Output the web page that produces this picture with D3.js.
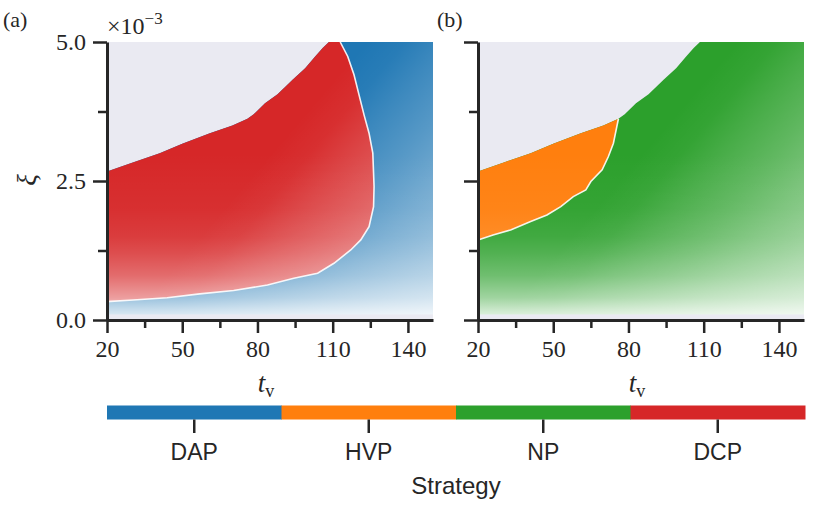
<!DOCTYPE html>
<html>
<head>
<meta charset="utf-8">
<script src="https://cdn.jsdelivr.net/npm/d3@7"></script>
<style>
  body { margin: 0; background: #fff; }
  svg { display: block; }
</style>
</head>
<body>
<div id="chart"></div>
<script>
// tick values
const tTicks = [20, 50, 80, 110, 140];
const tMinor = [35, 65, 95, 125];
const xiTicks = [0, 2.5, 5.0];
const xiMinor = [1.25, 3.75];

// strategies for the colour bar
const strategies = ["DAP", "HVP", "NP", "DCP"];
const strategyColors = ["#1f77b4", "#ff7f0e", "#2ca02c", "#d62728"];

// boundary of the "no strategy" region (top), in (t_v, xi*1e3)
const noneEdge = [
  [20, 2.67], [30, 2.83], [41, 3.0], [50, 3.17], [61, 3.36], [70, 3.5],
  [76, 3.62], [78.5, 3.7], [83, 3.9], [88, 4.06], [94, 4.32], [99, 4.53],
  [103, 4.74], [106, 4.89], [108.5, 5.0]
];

// (a) DCP region: right and lower boundary, from the top going round
const dcpEdge = [
  [113, 5.0], [116, 4.74], [118.5, 4.41], [120.5, 4.05], [122.5, 3.69],
  [124.5, 3.36], [126, 3.0], [126.5, 2.4], [126.3, 2.04], [124.5, 1.68],
  [121.2, 1.44], [117.2, 1.26], [110.5, 1.02], [104, 0.84], [94.5, 0.75],
  [84, 0.63], [70.5, 0.53], [57, 0.47], [44, 0.40], [30.5, 0.36], [20, 0.33]
];

// (b) HVP region: boundary with NP, from the top going down-left
const hvpEdge = [
  [76, 3.62], [74, 3.18], [72, 2.94], [69.5, 2.70], [65, 2.49], [63, 2.34],
  [58, 2.22], [53, 2.04], [47.5, 1.89], [41, 1.77], [33, 1.62], [26, 1.53],
  [20, 1.44]
];

// strip at xi ~ 0 with no strategy
const emptyBand = 0.1;

const W = 821, H = 517;
const svg = d3.select('#chart').append('svg')
  .attr('width', W).attr('height', H);
const defs = svg.append('defs');

const ink = '#262626';
const bgGray = '#eaeaf2';
const serif = '"Liberation Serif", "Times New Roman", serif';
const sans = '"Liberation Sans", Arial, sans-serif';

const yScale = d3.scaleLinear().domain([0, 5]).range([320, 42]);

const panels = [
  { id: 'a', x0: 107, label: '(a)', labelX: 3, low: 0, high: 3, edge: dcpEdge, showY: true },
  { id: 'b', x0: 478, label: '(b)', labelX: 437, low: 2, high: 1, edge: hvpEdge, showY: false }
];

const line = (x) => d3.line().x(d => x(d[0])).y(d => yScale(d[1]));

panels.forEach(p => {
  const x = d3.scaleLinear().domain([20, 150]).range([p.x0, p.x0 + 326]);
  const g = svg.append('g');
  const L = line(x);

  // background (no strategy)
  g.append('rect')
    .attr('x', x(20)).attr('y', yScale(5))
    .attr('width', x(150) - x(20)).attr('height', yScale(0) - yScale(5))
    .attr('fill', bgGray);

  // region below the none-edge
  const lowerPoly = noneEdge.concat([[150, 5], [150, 0], [20, 0]]);
  g.append('path').attr('d', L(lowerPoly) + 'Z')
    .attr('fill', strategyColors[p.low]);

  // upper-left strategy region
  let upperPoly;
  if (p.id === 'a') upperPoly = noneEdge.concat(dcpEdge);
  else upperPoly = noneEdge.filter(d => d[0] <= 76).concat(hvpEdge);
  g.append('path').attr('d', L(upperPoly) + 'Z')
    .attr('fill', strategyColors[p.high]);

  // fading overlays, clipped to the coloured area
  defs.append('clipPath').attr('id', 'clip-' + p.id)
    .append('path').attr('d', L(lowerPoly) + 'Z');

  // diagonal fade toward the lower right
  const dg = defs.append('linearGradient').attr('id', 'dfade-' + p.id)
    .attr('gradientUnits', 'userSpaceOnUse')
    .attr('x1', x(20)).attr('y1', yScale(5)).attr('x2', x(150)).attr('y2', yScale(0));
  [[0, 0], [0.46, 0], [0.53, 0.04], [0.6, 0.13], [0.7, 0.25], [0.79, 0.37], [0.9, 0.5], [1, 0.6]]
    .forEach(([s, o]) => dg.append('stop')
      .attr('offset', s).attr('stop-color', '#fff').attr('stop-opacity', o));

  // vertical fade toward xi = 0
  const vg = defs.append('linearGradient').attr('id', 'vfade-' + p.id)
    .attr('gradientUnits', 'userSpaceOnUse')
    .attr('x1', 0).attr('x2', 0).attr('y1', yScale(3)).attr('y2', yScale(0));
  [[3, 0], [2, 0.04], [1.5, 0.1], [1.2, 0.18], [0.8, 0.32], [0.4, 0.55], [0.15, 0.78], [0, 0.9]]
    .forEach(([v, o]) => vg.append('stop')
      .attr('offset', 1 - v / 3).attr('stop-color', '#fff').attr('stop-opacity', o));

  ['dfade-', 'vfade-'].forEach(k => {
    g.append('rect')
      .attr('clip-path', `url(#clip-${p.id})`)
      .attr('x', x(20)).attr('y', yScale(5))
      .attr('width', x(150) - x(20)).attr('height', yScale(0) - yScale(5))
      .attr('fill', `url(#${k}${p.id})`);
  });

  // white line between strategy regions
  g.append('path').attr('d', L(p.edge))
    .attr('fill', 'none').attr('stroke', '#fff')
    .attr('stroke-width', 1.6).attr('stroke-opacity', 0.9);

  // empty strip near xi = 0
  g.append('rect')
    .attr('x', x(20)).attr('y', yScale(emptyBand))
    .attr('width', x(150) - x(20)).attr('height', yScale(0) - yScale(emptyBand))
    .attr('fill', bgGray);

  // axes
  const xAxis = g.append('g').attr('transform', `translate(0,${yScale(0)})`)
    .call(d3.axisBottom(x).tickValues(tTicks).tickSize(13).tickSizeOuter(0).tickPadding(6));
  g.append('g').attr('transform', `translate(0,${yScale(0)})`)
    .call(d3.axisBottom(x).tickValues(tMinor).tickSize(8).tickSizeOuter(0).tickFormat(''))
    .select('.domain').remove();

  g.append('g').attr('transform', `translate(${x(20)},0)`)
    .call(d3.axisLeft(yScale).tickValues(xiTicks).tickSize(14).tickSizeOuter(0)
      .tickPadding(7).tickFormat(p.showY ? d3.format('.1f') : ''));
  g.append('g').attr('transform', `translate(${x(20)},0)`)
    .call(d3.axisLeft(yScale).tickValues(xiMinor).tickSize(9).tickSizeOuter(0).tickFormat(''))
    .select('.domain').remove();

  g.selectAll('.domain').attr('stroke', ink).attr('stroke-width', 3);
  g.selectAll('.tick line').attr('stroke', ink).attr('stroke-width', 2.5);
  g.selectAll('.tick text')
    .attr('font-family', serif).attr('font-size', 24).attr('fill', ink);
  xAxis.selectAll('.tick text').attr('dy', '0.75em');

  // x label: t_v
  const tl = g.append('text')
    .attr('x', (x(20) + x(150)) / 2 - 4).attr('y', 392)
    .attr('text-anchor', 'middle')
    .attr('font-family', serif).attr('fill', ink);
  tl.append('tspan').attr('font-style', 'italic').attr('font-size', 27).text('t');
  tl.append('tspan').attr('font-size', 18).attr('dy', 5).text('v');

  // panel label
  g.append('text').attr('x', p.labelX).attr('y', 27)
    .attr('font-family', serif).attr('font-size', 22).attr('fill', ink)
    .text(p.label);
});

// y label and multiplier (panel a)
svg.append('text')
  .attr('transform', 'translate(36,180) rotate(-90)')
  .attr('text-anchor', 'middle')
  .attr('font-family', serif).attr('font-style', 'italic')
  .attr('font-size', 27).attr('fill', ink)
  .text('ξ');

const mult = svg.append('text').attr('x', 107).attr('y', 34)
  .attr('font-family', serif).attr('font-size', 24).attr('fill', ink);
mult.append('tspan').text('×10');
mult.append('tspan').attr('font-size', 17).attr('dy', -10).text('−3');

// colour bar
const cb = d3.scaleBand().domain(strategies).range([107, 805]);
const cbg = svg.append('g');
cbg.selectAll('rect').data(strategies).join('rect')
  .attr('x', d => cb(d)).attr('y', 405.5)
  .attr('width', cb.bandwidth() + 0.5).attr('height', 14)
  .attr('fill', (d, i) => strategyColors[i]);
cbg.selectAll('line').data(strategies).join('line')
  .attr('x1', d => cb(d) + cb.bandwidth() / 2).attr('x2', d => cb(d) + cb.bandwidth() / 2)
  .attr('y1', 419.5).attr('y2', 433)
  .attr('stroke', ink).attr('stroke-width', 2.5);
cbg.selectAll('text.lab').data(strategies).join('text').attr('class', 'lab')
  .attr('x', d => cb(d) + cb.bandwidth() / 2).attr('y', 460)
  .attr('text-anchor', 'middle')
  .attr('font-family', sans).attr('font-size', 23).attr('fill', ink)
  .text(d => d);
cbg.append('text')
  .attr('x', 456).attr('y', 494).attr('text-anchor', 'middle')
  .attr('font-family', sans).attr('font-size', 24).attr('fill', ink)
  .text('Strategy');
</script>
</body>
</html>
